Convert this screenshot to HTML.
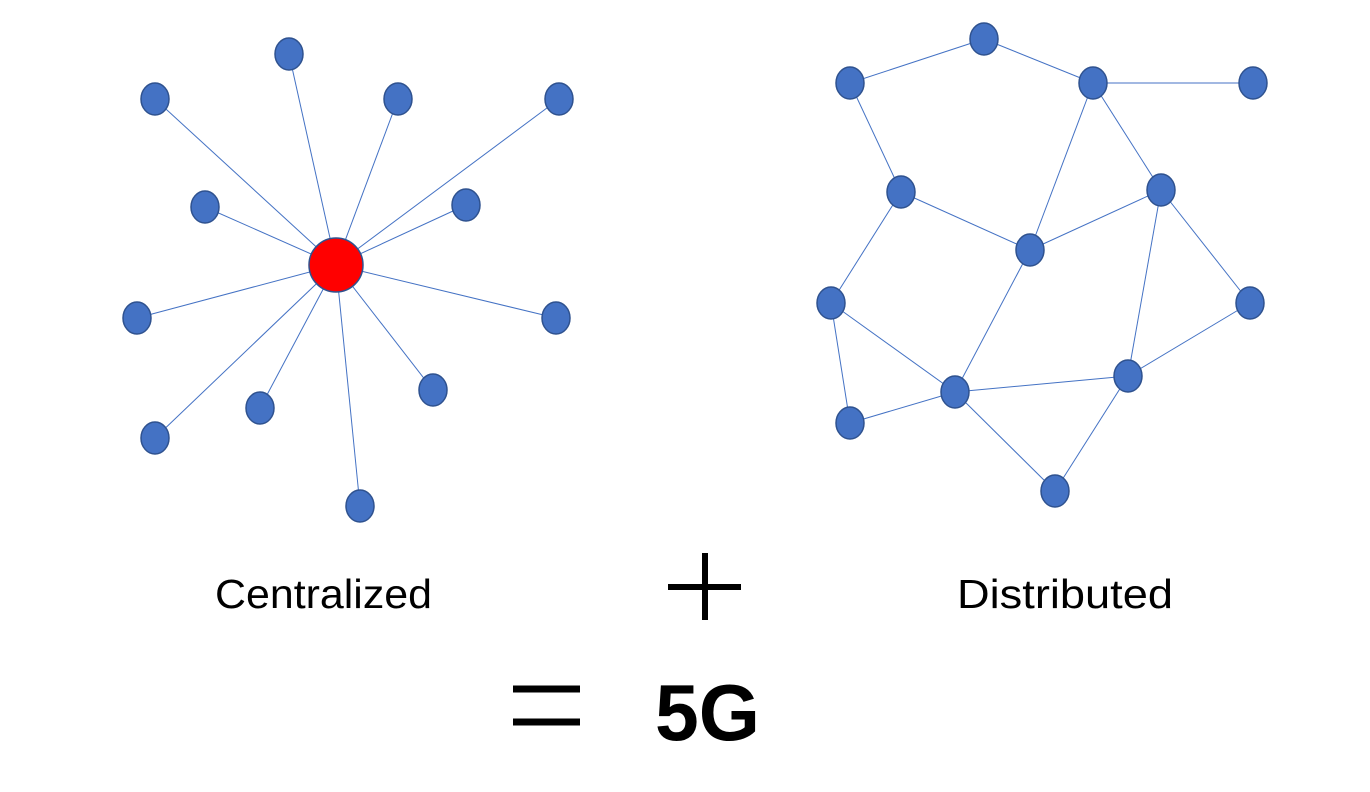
<!DOCTYPE html>
<html><head><meta charset="utf-8"><style>
html,body{margin:0;padding:0;background:#fff;width:1370px;height:792px;overflow:hidden}
</style></head><body>
<svg width="1370" height="792" viewBox="0 0 1370 792" xmlns="http://www.w3.org/2000/svg">
<g stroke="#4472c4" stroke-width="1">
<line x1="336" y1="265" x2="289" y2="54"/>
<line x1="336" y1="265" x2="155" y2="99"/>
<line x1="336" y1="265" x2="398" y2="99"/>
<line x1="336" y1="265" x2="559" y2="99"/>
<line x1="336" y1="265" x2="205" y2="207"/>
<line x1="336" y1="265" x2="466" y2="205"/>
<line x1="336" y1="265" x2="137" y2="318"/>
<line x1="336" y1="265" x2="556" y2="318"/>
<line x1="336" y1="265" x2="433" y2="390"/>
<line x1="336" y1="265" x2="260" y2="408"/>
<line x1="336" y1="265" x2="155" y2="438"/>
<line x1="336" y1="265" x2="360" y2="506"/>
<line x1="850" y1="83" x2="984" y2="39"/>
<line x1="984" y1="39" x2="1093" y2="83"/>
<line x1="1093" y1="83" x2="1253" y2="83"/>
<line x1="850" y1="83" x2="901" y2="192"/>
<line x1="1093" y1="83" x2="1030" y2="250"/>
<line x1="1093" y1="83" x2="1161" y2="190"/>
<line x1="901" y1="192" x2="1030" y2="250"/>
<line x1="1030" y1="250" x2="1161" y2="190"/>
<line x1="901" y1="192" x2="831" y2="303"/>
<line x1="1161" y1="190" x2="1128" y2="376"/>
<line x1="1161" y1="190" x2="1250" y2="303"/>
<line x1="1250" y1="303" x2="1128" y2="376"/>
<line x1="1030" y1="250" x2="955" y2="392"/>
<line x1="831" y1="303" x2="955" y2="392"/>
<line x1="831" y1="303" x2="850" y2="423"/>
<line x1="850" y1="423" x2="955" y2="392"/>
<line x1="955" y1="392" x2="1128" y2="376"/>
<line x1="955" y1="392" x2="1055" y2="491"/>
<line x1="1055" y1="491" x2="1128" y2="376"/>
</g>
<g fill="#4472c4" stroke="#2f528f" stroke-width="1.5">
<ellipse cx="289" cy="54" rx="14" ry="16"/>
<ellipse cx="155" cy="99" rx="14" ry="16"/>
<ellipse cx="398" cy="99" rx="14" ry="16"/>
<ellipse cx="559" cy="99" rx="14" ry="16"/>
<ellipse cx="205" cy="207" rx="14" ry="16"/>
<ellipse cx="466" cy="205" rx="14" ry="16"/>
<ellipse cx="137" cy="318" rx="14" ry="16"/>
<ellipse cx="556" cy="318" rx="14" ry="16"/>
<ellipse cx="433" cy="390" rx="14" ry="16"/>
<ellipse cx="260" cy="408" rx="14" ry="16"/>
<ellipse cx="155" cy="438" rx="14" ry="16"/>
<ellipse cx="360" cy="506" rx="14" ry="16"/>
<ellipse cx="984" cy="39" rx="14" ry="16"/>
<ellipse cx="850" cy="83" rx="14" ry="16"/>
<ellipse cx="1093" cy="83" rx="14" ry="16"/>
<ellipse cx="1253" cy="83" rx="14" ry="16"/>
<ellipse cx="901" cy="192" rx="14" ry="16"/>
<ellipse cx="1161" cy="190" rx="14" ry="16"/>
<ellipse cx="1030" cy="250" rx="14" ry="16"/>
<ellipse cx="831" cy="303" rx="14" ry="16"/>
<ellipse cx="1250" cy="303" rx="14" ry="16"/>
<ellipse cx="1128" cy="376" rx="14" ry="16"/>
<ellipse cx="955" cy="392" rx="14" ry="16"/>
<ellipse cx="850" cy="423" rx="14" ry="16"/>
<ellipse cx="1055" cy="491" rx="14" ry="16"/>
</g>
<circle cx="336" cy="265" r="27" fill="#ff0000" stroke="#2f528f" stroke-width="1.5"/>
<g font-family="Liberation Sans, sans-serif" fill="#000">
<text x="215" y="608" font-size="41" textLength="217" lengthAdjust="spacingAndGlyphs">Centralized</text>
<text x="957" y="608" font-size="41" textLength="216" lengthAdjust="spacingAndGlyphs">Distributed</text>
<text x="655" y="740" font-size="80" font-weight="bold" textLength="105" lengthAdjust="spacingAndGlyphs">5G</text>
</g>
<g stroke="#000" stroke-width="6">
<line x1="668" y1="587" x2="741" y2="587"/>
<line x1="705" y1="553" x2="705" y2="620"/>
</g>
<g stroke="#000" stroke-width="7">
<line x1="513" y1="689" x2="580" y2="689"/>
<line x1="513" y1="722" x2="580" y2="722"/>
</g>
</svg>
</body></html>
